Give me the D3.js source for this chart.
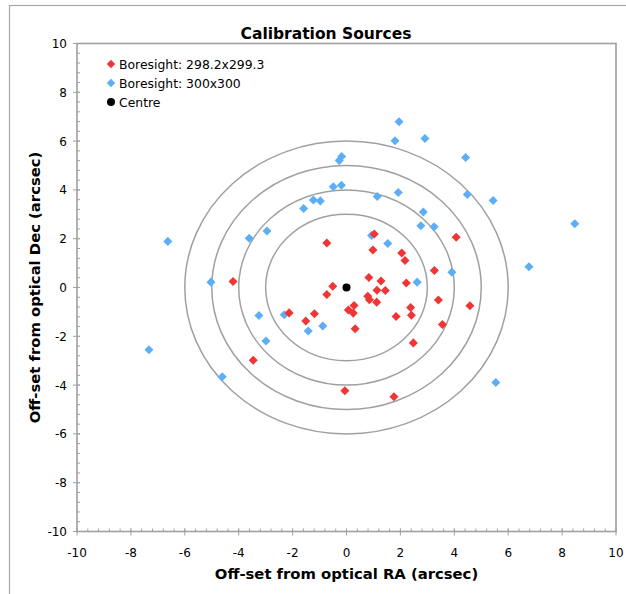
<!DOCTYPE html>
<html>
<head>
<meta charset="utf-8">
<script src="https://cdn.jsdelivr.net/npm/d3@7"></script>
<style>
	body { margin: 0; background: #fff; }
	svg { display: block; font-family: "DejaVu Sans", Verdana, sans-serif; }
</style>
</head>
<body>
<svg id="svgChart" width="626" height="594"></svg>
<script>
// Series: offsets in arcsec [RA, Dec]
var redPoints = [
	[-0.73, 1.82], [-4.21, 0.25], [-0.51, 0.05], [-0.73, -0.29], [-2.13, -1.04],
	[-1.19, -1.08], [-1.51, -1.37], [-3.46, -2.98], [1.03, 2.19], [0.98, 1.54],
	[4.07, 2.06], [2.05, 1.41], [2.17, 1.11], [3.26, 0.70], [0.83, 0.41],
	[1.28, 0.27], [2.22, 0.18], [1.13, -0.11], [1.44, -0.12], [0.79, -0.36],
	[0.85, -0.50], [1.12, -0.60], [0.28, -0.74], [0.07, -0.92], [0.25, -1.05],
	[3.41, -0.51], [4.58, -0.75], [2.38, -0.82], [1.84, -1.19], [2.41, -1.14],
	[0.32, -1.69], [3.56, -1.52], [2.48, -2.27], [-0.06, -4.23], [1.76, -4.48]
];
var bluePoints = [
	[-6.63, 1.89], [-5.03, 0.22], [-3.61, 2.02], [-2.95, 2.32], [-1.59, 3.24],
	[-1.23, 3.59], [-0.97, 3.55], [-0.49, 4.13], [-0.19, 4.19], [-0.27, 5.20],
	[-0.18, 5.37], [-3.25, -1.15], [-2.31, -1.12], [-1.42, -1.78], [-0.88, -1.58],
	[-2.99, -2.19], [-7.33, -2.55], [-4.61, -3.66], [1.95, 6.79], [1.80, 6.01],
	[2.91, 6.11], [4.42, 5.33], [1.14, 3.73], [1.92, 3.89], [4.48, 3.81],
	[5.44, 3.57], [2.85, 3.09], [2.76, 2.53], [3.25, 2.49], [8.47, 2.61],
	[0.93, 2.13], [1.53, 1.80], [3.91, 0.63], [6.77, 0.85], [2.62, 0.22],
	[5.54, -3.89]
];
var centrePoint = [[0, 0]];
var ringRadii = [3, 4, 5, 6];
var axisTicks = [-10, -8, -6, -4, -2, 0, 2, 4, 6, 8, 10];
var minorTicks = d3.range(-10, 10.001, 0.4);
var legendNames = ["Boresight: 298.2x299.3", "Boresight: 300x300", "Centre"];

var chart = [];
chart.margin = {top: 43.5, right: 10, bottom: 62.5, left: 77};
chart.width = 626;
chart.height = 594;

chart.draw = () => {
	let svg = d3.select("#svgChart");
	let m = chart.margin,
		x0 = m.left, x1 = 616,
		y0 = m.top, y1 = 531.5;

	let x = d3.scaleLinear().domain([-10, 10]).range([x0, x1]),
		y = d3.scaleLinear().domain([-10, 10]).range([y1, y0]);

	// Outer chart border (top and left visible)
	svg.append("rect")
		.attr("x", 9.5).attr("y", 5.5)
		.attr("width", 700).attr("height", 700)
		.style("fill", "none")
		.style("stroke", "#a8a8a8")
		.style("stroke-width", 1.2);

	// Title
	svg.append("text")
		.attr("x", 326).attr("y", 39)
		.style("text-anchor", "middle")
		.style("font-weight", "bold")
		.style("font-size", "15.5px")
		.text("Calibration Sources");

	// Plot frame
	svg.append("rect")
		.attr("x", x0).attr("y", y0)
		.attr("width", x1 - x0).attr("height", y1 - y0)
		.style("fill", "#fff")
		.style("stroke", "#a0a0a0")
		.style("stroke-width", 1.6);

	// Minor ticks (inside)
	let g = svg.append("g").style("stroke", "#a0a0a0").style("stroke-width", 1);
	g.selectAll(".mx").data(minorTicks).enter().append("line")
		.attr("x1", d => x(d)).attr("x2", d => x(d))
		.attr("y1", y1).attr("y2", y1 - 3);
	g.selectAll(".my").data(minorTicks).enter().append("line")
		.attr("y1", d => y(d)).attr("y2", d => y(d))
		.attr("x1", x0).attr("x2", x0 + 3);
	// Major ticks (cross)
	g.selectAll(".Mx").data(axisTicks).enter().append("line")
		.attr("x1", d => x(d)).attr("x2", d => x(d))
		.attr("y1", y1 - 3).attr("y2", y1 + 4);
	g.selectAll(".My").data(axisTicks).enter().append("line")
		.attr("y1", d => y(d)).attr("y2", d => y(d))
		.attr("x1", x0 - 4).attr("x2", x0 + 3);

	// Tick labels
	svg.selectAll(".xl").data(axisTicks).enter().append("text")
		.attr("x", d => x(d)).attr("y", y1 + 25)
		.style("text-anchor", "middle")
		.style("font-size", "12px")
		.text(d => d);
	svg.selectAll(".yl").data(axisTicks).enter().append("text")
		.attr("x", x0 - 10).attr("y", d => y(d) + 4.5)
		.style("text-anchor", "end")
		.style("font-size", "12px")
		.text(d => d);

	// Axis titles
	svg.append("text")
		.attr("x", (x0 + x1) / 2).attr("y", 579)
		.style("text-anchor", "middle")
		.style("font-weight", "bold")
		.style("font-size", "14.8px")
		.text("Off-set from optical RA (arcsec)");
	svg.append("text")
		.attr("transform", "translate(40," + ((y0 + y1) / 2) + ") rotate(-90)")
		.style("text-anchor", "middle")
		.style("font-weight", "bold")
		.style("font-size", "14.8px")
		.text("Off-set from optical Dec (arcsec)");

	// Rings
	svg.selectAll(".ring").data(ringRadii).enter().append("ellipse")
		.attr("cx", x(0)).attr("cy", y(0))
		.attr("rx", d => x(d) - x(0))
		.attr("ry", d => y(0) - y(d))
		.style("fill", "none")
		.style("stroke", "#a0a0a0")
		.style("stroke-width", 1.5);

	let diamond = d3.symbol().type(d3.symbolDiamond2).size(52);
	let drawSeries = (data, color) => {
		svg.append("g").selectAll("path").data(data).enter().append("path")
			.attr("d", diamond)
			.attr("transform", d => "translate(" + x(d[0]) + "," + y(d[1]) + ")")
			.style("fill", color);
	};
	drawSeries(bluePoints, "#5caef6");
	drawSeries(redPoints, "#ef3535");

	svg.append("g").selectAll("circle").data(centrePoint).enter().append("circle")
		.attr("cx", d => x(d[0])).attr("cy", d => y(d[1]))
		.attr("r", 4)
		.style("fill", "#000");

	// Legend
	let legendColors = ["#ef3535", "#5caef6", "#000"];
	let legend = svg.append("g").attr("transform", "translate(111,64)");
	legendNames.forEach((name, i) => {
		let row = legend.append("g").attr("transform", "translate(0," + (i * 19) + ")");
		if (i < 2)
			row.append("path").attr("d", d3.symbol().type(d3.symbolDiamond2).size(45)).style("fill", legendColors[i]);
		else
			row.append("circle").attr("r", 4).style("fill", legendColors[i]);
		row.append("text")
			.attr("x", 8).attr("y", 4.5)
			.style("font-size", "12.4px")
			.text(name);
	});
};

chart.draw();
</script>
</body>
</html>
